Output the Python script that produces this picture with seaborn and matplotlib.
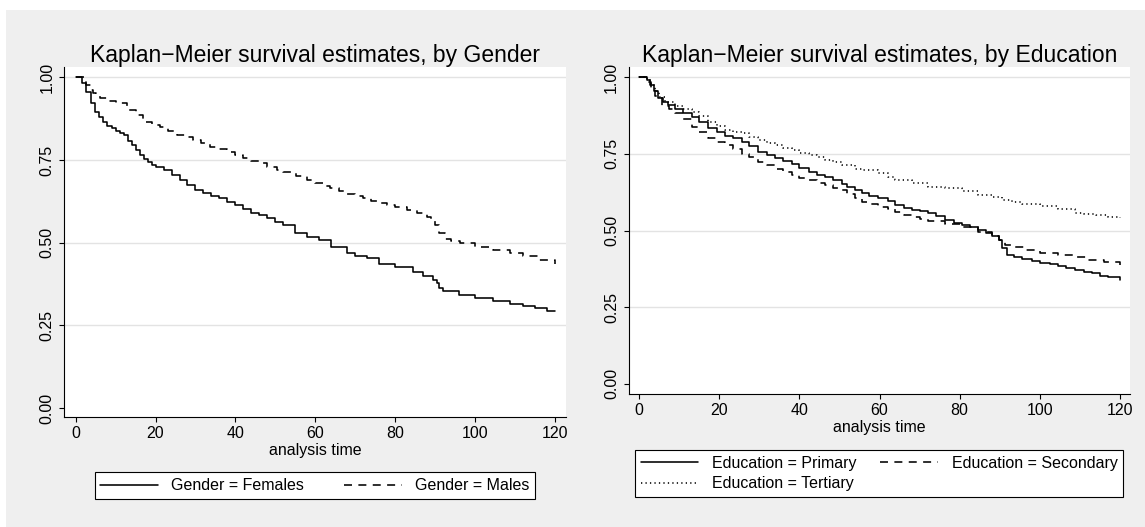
import matplotlib
matplotlib.use("Agg")
import matplotlib.pyplot as plt
from matplotlib.patches import Rectangle
import seaborn as sns

# ---------------- data ----------------
fem_t = [0, 1.7, 2.7, 3.8, 4.8, 5.9, 6.9, 7.9, 9, 10, 11, 12, 13, 14, 15, 16, 17, 18, 19, 20,
         22, 24, 26, 28, 30, 32, 34, 36, 38, 40, 42, 44, 46, 48, 50, 52, 55, 58, 61, 64,
         68, 70, 73, 76, 80, 84.6, 87, 89.6, 90.4, 91.1, 92.1, 96, 100, 104.6, 108.8, 112, 115, 118, 120]
fem_s = [1.0, 0.984, 0.956, 0.921, 0.896, 0.881, 0.866, 0.854, 0.846, 0.838, 0.831, 0.824, 0.808, 0.795,
         0.780, 0.765, 0.753, 0.743, 0.735, 0.730, 0.720, 0.705, 0.689, 0.674, 0.659, 0.649, 0.641, 0.634,
         0.624, 0.614, 0.601, 0.590, 0.584, 0.576, 0.563, 0.553, 0.528, 0.518, 0.508, 0.488, 0.468, 0.46,
         0.453, 0.437, 0.425, 0.412, 0.40, 0.387, 0.377, 0.362, 0.355, 0.342, 0.332, 0.324, 0.316, 0.31,
         0.303, 0.294, 0.294]

male_t = [0, 2.7, 3.8, 4.4, 5, 6, 8, 10, 12.8, 15, 16.9, 19, 21.1, 23, 25.3, 27.5, 29.5, 31.5, 33.6, 35.5,
          37.8, 40, 42, 44, 46.2, 48, 50.3, 52, 55.3, 58, 60, 62, 63.7, 66, 67.9, 70, 72, 74, 76.2, 78,
          80, 82.9, 85.4, 87.9, 89, 90, 91.1, 92.5, 94, 96.2, 100, 104.6, 108.8, 112, 116, 120]
male_s = [1.0, 0.977, 0.96, 0.951, 0.946, 0.938, 0.929, 0.921, 0.901, 0.885, 0.865, 0.857, 0.85, 0.838,
          0.826, 0.818, 0.81, 0.80, 0.79, 0.783, 0.775, 0.765, 0.755, 0.748, 0.74, 0.73, 0.72, 0.715,
          0.70, 0.69, 0.681, 0.672, 0.664, 0.655, 0.647, 0.64, 0.634, 0.627, 0.619, 0.613, 0.607, 0.599,
          0.589, 0.577, 0.565, 0.553, 0.528, 0.51, 0.504, 0.498, 0.488, 0.478, 0.468, 0.46, 0.447, 0.434]

prim_t = [0, 1.9, 2.7, 3.7, 4.8, 6, 7.3, 9, 11, 13.1, 15, 17.3, 19.5, 21.5, 23.5, 25.6, 27.5, 29.8, 32, 33.9,
          36, 38.1, 40, 42.3, 44.5, 46.4, 48.5, 50.6, 52, 53.9, 55.6, 57.5, 59.7, 62, 63.9, 66, 68.1, 70,
          72.2, 74, 76.4, 78.5, 80.6, 82.5, 84.7, 86.5, 88, 89.7, 90.5, 91.8, 93.5, 95.5, 98, 100.1, 102.5,
          104.6, 106.5, 108.8, 111, 113, 115, 117, 120]
prim_s = [1.0, 0.99, 0.974, 0.955, 0.931, 0.92, 0.909, 0.895, 0.884, 0.871, 0.855, 0.833, 0.82, 0.809, 0.80,
          0.789, 0.775, 0.757, 0.745, 0.735, 0.726, 0.717, 0.705, 0.692, 0.682, 0.675, 0.665, 0.652, 0.642,
          0.632, 0.621, 0.613, 0.605, 0.595, 0.583, 0.574, 0.567, 0.562, 0.556, 0.546, 0.534, 0.526, 0.518,
          0.511, 0.502, 0.492, 0.482, 0.469, 0.442, 0.42, 0.413, 0.406, 0.40, 0.395, 0.39, 0.384, 0.379,
          0.371, 0.366, 0.36, 0.353, 0.347, 0.339]

sec_t = [0, 2.2, 3, 4, 5.7, 7.5, 9, 11, 13.1, 15, 17.3, 19.5, 21.5, 23.5, 25.6, 27.5, 29.8, 32, 33.9, 36,
         38.1, 40, 42.3, 44.5, 46.4, 48.5, 50.6, 52, 53.9, 55.6, 57.5, 59.7, 62, 63.9, 66, 68.1, 70, 72.2,
         76.4, 80.6, 84.7, 88, 89.7, 91.3, 93, 96.5, 100.1, 104.6, 108.8, 112, 116, 120]
sec_s = [1.0, 0.985, 0.965, 0.937, 0.906, 0.895, 0.882, 0.862, 0.838, 0.82, 0.80, 0.789, 0.778, 0.765,
         0.751, 0.738, 0.724, 0.712, 0.702, 0.691, 0.681, 0.672, 0.664, 0.656, 0.648, 0.64, 0.632, 0.618,
         0.607, 0.594, 0.586, 0.578, 0.57, 0.561, 0.552, 0.543, 0.537, 0.532, 0.521, 0.51, 0.496, 0.482,
         0.469, 0.453, 0.445, 0.436, 0.428, 0.419, 0.412, 0.404, 0.396, 0.388]

ter_t = [0, 2, 3, 4, 5, 6.5, 9, 11, 13.1, 15, 17.3, 19.5, 21.5, 23.5, 25.6, 27.5, 29.8, 32, 33.9, 36,
         38.1, 40, 42.3, 44.5, 46.4, 48.5, 50.6, 53.9, 55.6, 59.7, 62, 63.9, 68.1, 72.2, 76.4, 80.6, 84.7,
         88, 90.5, 93, 95.5, 100.1, 104.6, 108.8, 111, 114, 117, 120]
ter_s = [1.0, 0.99, 0.975, 0.955, 0.935, 0.92, 0.906, 0.897, 0.887, 0.872, 0.855, 0.84, 0.827, 0.822,
         0.817, 0.806, 0.795, 0.786, 0.778, 0.77, 0.762, 0.754, 0.746, 0.738, 0.73, 0.722, 0.713, 0.702,
         0.697, 0.686, 0.675, 0.664, 0.654, 0.641, 0.637, 0.629, 0.616, 0.61, 0.599, 0.592, 0.586, 0.58,
         0.569, 0.558, 0.555, 0.55, 0.545, 0.541]

gender_labels = ["Gender = Females", "Gender = Males"]
edu_labels = ["Education = Primary", "Education = Secondary", "Education = Tertiary"]
titles = ["Kaplan\u2212Meier survival estimates, by Gender",
          "Kaplan\u2212Meier survival estimates, by Education"]
xlabel = "analysis time"
xticks = [0, 20, 40, 60, 80, 100, 120]
yticks = [0.0, 0.25, 0.5, 0.75, 1.0]
ytick_labels = ["0.00", "0.25", "0.50", "0.75", "1.00"]

# ---------------- style ----------------
sns.set_theme(style="ticks")
plt.rcParams["font.family"] = ["Liberation Sans", "DejaVu Sans"]
plt.rcParams["axes.edgecolor"] = "black"
plt.rcParams["text.color"] = "black"
plt.rcParams["axes.labelcolor"] = "black"
plt.rcParams["xtick.color"] = "black"
plt.rcParams["ytick.color"] = "black"

W, H = 1145, 527
fig = plt.figure(figsize=(W / 100, H / 100), dpi=100, facecolor="white")
fig.patches.append(Rectangle((6 / W, 0), 1, 1 - 10 / H, transform=fig.transFigure,
                             facecolor="#efefef", edgecolor="none", zorder=-10))

def px_axes(x0, y0, x1, y1):
    return fig.add_axes([x0 / W, 1 - y1 / H, (x1 - x0) / W, (y1 - y0) / H])

axL = px_axes(64, 67, 566, 417)
axR = px_axes(628.6, 67, 1130, 394)

DASH = (5.0, 4.0)
DOT = (0.8, 2.0)

def style_axes(ax, title, xlim, ylim):
    ax.set_facecolor("white")
    ax.set_xlim(*xlim)
    ax.set_ylim(*ylim)
    ax.set_xticks(xticks)
    ax.set_xticklabels([str(v) for v in xticks])
    ax.set_yticks(yticks)
    ax.set_yticklabels(ytick_labels, rotation=90, va="center")
    ax.tick_params(axis="both", labelsize=11.5, length=3.8, width=0.8, direction="out")
    ax.tick_params(axis="x", pad=3)
    ax.tick_params(axis="y", pad=3)
    ax.yaxis.grid(True, color="#e3e3e3", linewidth=1.0)
    ax.xaxis.grid(False)
    ax.set_axisbelow(True)
    ax.get_ygridlines()[0].set_visible(False)
    for s in ["top", "right"]:
        ax.spines[s].set_visible(False)
    for s in ["left", "bottom"]:
        ax.spines[s].set_linewidth(0.8)
        ax.spines[s].set_color("black")
    ax.set_title(title, fontsize=16.5, pad=3)
    ax.set_xlabel(xlabel, fontsize=11.5, labelpad=1)
    ax.set_ylabel("")

def km(ax, t, s, label, dashes=None):
    sns.lineplot(x=t, y=s, ax=ax, drawstyle="steps-post", color="black", linewidth=1.15,
                 estimator=None, sort=False, legend=False)
    line = ax.lines[-1]
    line.set_label(label)
    if dashes is not None:
        line.set_dashes(dashes)
    return line

# ---------------- left panel ----------------
l_f = km(axL, fem_t, fem_s, gender_labels[0])
l_m = km(axL, male_t, male_s, gender_labels[1], DASH)
style_axes(axL, titles[0], (-2.93, 122.8), (-0.027, 1.031))

# ---------------- right panel ----------------
l_p = km(axR, prim_t, prim_s, edu_labels[0])
l_s = km(axR, sec_t, sec_s, edu_labels[1], DASH)
l_t = km(axR, ter_t, ter_s, edu_labels[2], DOT)
style_axes(axR, titles[1], (-2.6, 122.5), (-0.033, 1.033))

leg_kw = dict(loc="center", bbox_transform=fig.transFigure, ncol=2, frameon=True, fancybox=False,
              edgecolor="black", framealpha=1, facecolor="white", fontsize=11.5,
              handlelength=3.6, handletextpad=0.85, borderpad=0.36, labelspacing=0.34,
              borderaxespad=0)
legL = axL.legend([l_f, l_m], gender_labels, bbox_to_anchor=(315 / W, 1 - 485.7 / H),
                  columnspacing=2.5, **leg_kw)
legR = axR.legend([l_p, l_t, l_s], [edu_labels[0], edu_labels[2], edu_labels[1]],
                  bbox_to_anchor=(879.2 / W, 1 - 473.7 / H), columnspacing=1.5, **leg_kw)
for lg in (legL, legR):
    lg.get_frame().set_linewidth(0.8)
    lg.get_frame().set_boxstyle("square", pad=0)

fig.savefig("out.png", dpi=100, facecolor=fig.get_facecolor())
